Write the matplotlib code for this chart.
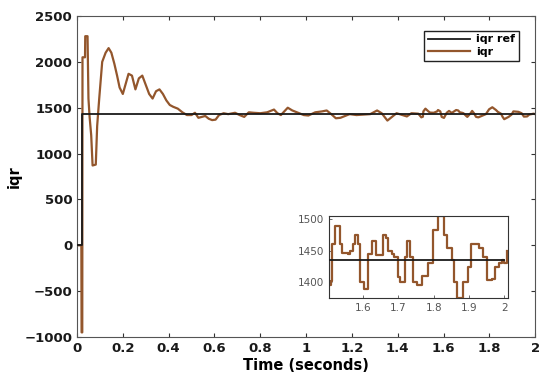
import matplotlib
matplotlib.use("Agg")
import matplotlib.pyplot as plt

# ---- data ----
ref_t = [0.0, 0.02, 2.0]
ref_v = [0, 1435, 1435]

iqr_t = [0.0, 0.019, 0.020, 0.023, 0.024, 0.035, 0.036, 0.046, 0.050, 0.055,
         0.062, 0.068, 0.082, 0.088,
         0.097, 0.110, 0.125, 0.138, 0.150, 0.163, 0.175, 0.186, 0.200, 0.215,
         0.225, 0.240, 0.255, 0.270, 0.285, 0.300, 0.315, 0.330, 0.345, 0.360,
         0.375, 0.390, 0.405, 0.420, 0.440, 0.460, 0.480, 0.500, 0.515, 0.530,
         0.545, 0.560, 0.575, 0.590, 0.605, 0.620, 0.640, 0.660, 0.690, 0.710,
         0.730, 0.750, 0.770, 0.800, 0.830, 0.860, 0.875, 0.890, 0.920, 0.940,
         0.960, 0.990, 1.010, 1.040, 1.070, 1.090, 1.110, 1.130, 1.150, 1.170,
         1.190, 1.220, 1.250, 1.280, 1.310, 1.330, 1.355, 1.375, 1.395, 1.420,
         1.440, 1.460, 1.490,
         1.503, 1.510, 1.512, 1.521, 1.534, 1.541, 1.557, 1.562, 1.572, 1.576,
         1.586, 1.592, 1.602, 1.614, 1.624, 1.636, 1.655, 1.664, 1.671, 1.681,
         1.687, 1.700, 1.704, 1.718, 1.725, 1.733, 1.742, 1.752, 1.766, 1.785,
         1.799, 1.813, 1.829, 1.837, 1.851, 1.858, 1.865, 1.884, 1.897, 1.905,
         1.927, 1.941, 1.951, 1.965, 1.974, 1.984, 1.993, 2.000, 2.008]
iqr_v = [0, 0, -950, -950, 2050, 2050, 2280, 2280, 1600, 1400,
         1200, 870, 880, 1300,
         1600, 2000, 2100, 2150, 2100, 1980, 1850, 1720, 1650, 1780,
         1870, 1850, 1700, 1820, 1850, 1750, 1650, 1600, 1680, 1700,
         1650, 1580, 1530, 1510, 1490, 1450, 1420, 1420, 1445, 1390,
         1400, 1410, 1380, 1365, 1370, 1420, 1440, 1430, 1445, 1420,
         1400, 1450, 1445, 1440, 1450, 1480, 1440, 1420, 1500, 1470,
         1450, 1420, 1415, 1450, 1460, 1470, 1430, 1385, 1390, 1410,
         1430, 1420, 1425, 1430, 1470, 1440, 1360, 1400, 1440, 1420,
         1405, 1440, 1435,
         1395, 1402, 1460, 1490, 1460, 1447, 1445, 1450, 1460, 1475,
         1460, 1400, 1389, 1445, 1465, 1443, 1475, 1470, 1450, 1445,
         1440, 1408, 1400, 1440, 1465, 1440, 1400, 1395, 1410, 1430,
         1483, 1505, 1475, 1455, 1435, 1400, 1375, 1400, 1425, 1460,
         1455, 1440, 1403, 1405, 1425, 1430, 1435, 1430, 1450]

main_xticks = [0, 0.2, 0.4, 0.6, 0.8, 1, 1.2, 1.4, 1.6, 1.8, 2]
main_xlabels = ["0", "0.2", "0.4", "0.6", "0.8", "1", "1.2", "1.4", "1.6", "1.8", "2"]
main_yticks = [-1000, -500, 0, 500, 1000, 1500, 2000, 2500]
inset_xticks = [1.6, 1.7, 1.8, 1.9, 2.0]
inset_xlabels = ["1.6", "1.7", "1.8", "1.9", "2"]
inset_yticks = [1400, 1450, 1500]

REF_C = "#1a1a1a"
IQR_C = "#93562c"

fig = plt.figure(figsize=(5.5, 3.86), dpi=100)
ax = fig.add_axes([0.140, 0.127, 0.833, 0.8315])
ax.plot(ref_t, ref_v, drawstyle="steps-post", color=REF_C, lw=1.3, label="iqr ref", zorder=3)
ax.plot(iqr_t, iqr_v, color=IQR_C, lw=1.6, label="iqr", zorder=2)
ax.set_xlim(0, 2)
ax.set_ylim(-1000, 2500)
ax.set_xticks(main_xticks)
ax.set_xticklabels(main_xlabels)
ax.set_yticks(main_yticks)
ax.tick_params(direction="in", top=True, right=True, length=3, labelsize=9.5,
               colors="#333333", labelcolor="#1a1a1a", width=0.8)
for lab in ax.get_xticklabels() + ax.get_yticklabels():
    lab.set_fontweight("bold")
for s in ax.spines.values():
    s.set_color("#555555")
    s.set_linewidth(0.8)
ax.set_xlabel("Time (seconds)", fontweight="bold", fontsize=10.5, labelpad=2)
ax.set_ylabel("iqr", fontweight="bold", fontsize=10.5, labelpad=2)
leg = ax.legend(loc="upper right", bbox_to_anchor=(0.976, 0.972), fancybox=False,
                edgecolor="#222222", framealpha=1, prop={"weight": "bold", "size": 8},
                handlelength=3.8, borderpad=0.35, labelspacing=0.25, handletextpad=0.5)
leg.get_frame().set_linewidth(1.0)

ins = fig.add_axes([0.598, 0.228, 0.326, 0.212])
ins.plot(ref_t, ref_v, drawstyle="steps-post", color=REF_C, lw=1.3, zorder=3)
ins.plot(iqr_t, iqr_v, drawstyle="steps-post", color=IQR_C, lw=1.6, zorder=2)
ins.set_xlim(1.503, 2.011)
ins.set_ylim(1375, 1505)
ins.set_xticks(inset_xticks)
ins.set_xticklabels(inset_xlabels)
ins.set_yticks(inset_yticks)
ins.tick_params(direction="in", length=2, labelsize=7.5, labelcolor="#555555",
                colors="#555555", width=0.6)
for s in ins.spines.values():
    s.set_color("#333333")
    s.set_linewidth(0.8)

fig.savefig("out.png", dpi=100)
